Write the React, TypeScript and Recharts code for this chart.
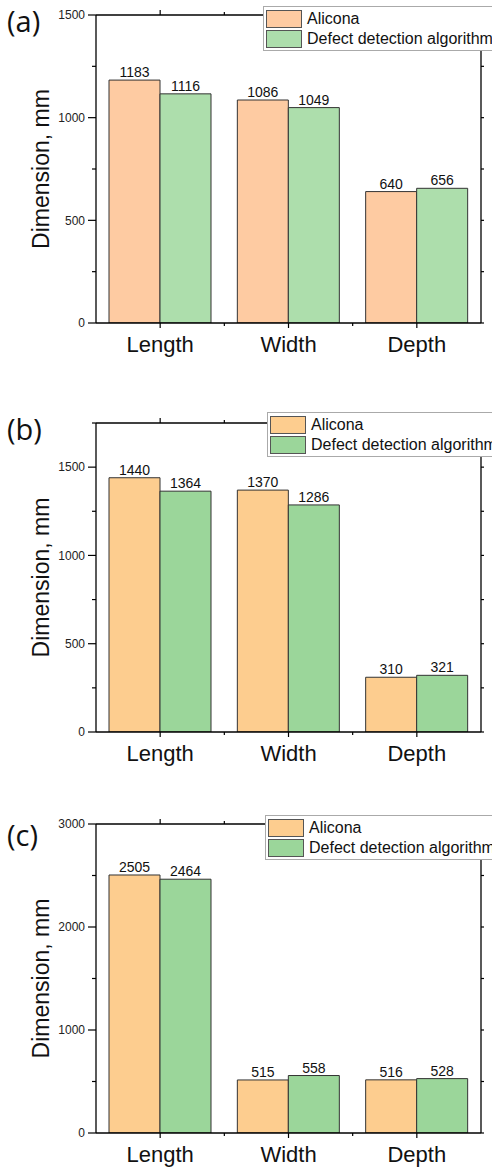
import React from "react"
import { BarChart, Bar, XAxis, YAxis, LabelList, Legend } from "recharts"

const CATEGORIES = ["Length", "Width", "Depth"]
const SERIES = ["Alicona", "Defect detection algorithm"]

const ALICONA_A = [1183, 1086, 640]
const DETECT_A = [1116, 1049, 656]
const ALICONA_B = [1440, 1370, 310]
const DETECT_B = [1364, 1286, 321]
const ALICONA_C = [2505, 515, 516]
const DETECT_C = [2464, 558, 528]

const TICKS_A = [0, 250, 500, 750, 1000, 1250, 1500]
const TICKS_B = [0, 250, 500, 750, 1000, 1250, 1500, 1750]
const TICKS_C = [0, 500, 1000, 1500, 2000, 2500, 3000]

const FONT = "'Liberation Sans', Arial, sans-serif"
const W = 492
const LEFT_W = 96
const RIGHT_W = 11
const PLOT_W = W - LEFT_W - RIGHT_W

const leftTick = (major: number) => (props: any) => {
    const { x, y, payload } = props
    const isMajor = payload.value % major === 0
    return (
        <g>
            <line x1={x} x2={x - (isMajor ? 8 : 4)} y1={y} y2={y} stroke="#000" strokeWidth={1.2} />
            {isMajor && (
                <text x={x - 11} y={y} dy="0.35em" textAnchor="end" fontSize={12} fill="#222" fontFamily={FONT}>
                    {payload.value}
                </text>
            )}
        </g>
    )
}

const rightTick = (props: any) => {
    const { x, y } = props
    return <line x1={x} x2={x + 3} y1={y} y2={y} stroke="#000" strokeWidth={1.2} />
}

const step = PLOT_W / CATEGORIES.length

const bottomTick = (props: any) => {
    const { x, y, payload, index } = props
    return (
        <g>
            <line x1={x} x2={x} y1={y} y2={y + 5} stroke="#000" strokeWidth={1.2} />
            {index < CATEGORIES.length - 1 && (
                <line x1={x + step / 2} x2={x + step / 2} y1={y} y2={y + 3} stroke="#000" strokeWidth={1.2} />
            )}
            <text x={x} y={y + 29} textAnchor="middle" fontSize={22} fill="#111" fontFamily={FONT}>
                {payload.value}
            </text>
        </g>
    )
}

const topTick = (props: any) => {
    const { x, y, index } = props
    return (
        <g>
            <line x1={x} x2={x} y1={y} y2={y - 5} stroke="#000" strokeWidth={1.2} />
            {index < CATEGORIES.length - 1 && (
                <line x1={x + step / 2} x2={x + step / 2} y1={y} y2={y - 3} stroke="#000" strokeWidth={1.2} />
            )}
        </g>
    )
}

function renderLegend(props: any) {
    const { payload } = props
    return (
        <div style={{ background: "#fff", border: "1px solid #aaa", padding: "2px 2px 1px 2px", fontFamily: FONT }}>
            {(payload || []).map((entry: any, i: number) => (
                <div key={i} style={{ display: "flex", alignItems: "center", height: 20 }}>
                    <div style={{ width: 34, height: 16, background: entry.color, border: "1px solid #555", marginRight: 5 }} />
                    <span style={{ fontSize: 16, color: "#111", whiteSpace: "nowrap" }}>{entry.value}</span>
                </div>
            ))}
        </div>
    )
}

interface PanelProps {
    top: number
    height: number
    topH: number
    bottomH: number
    alicona: number[]
    detect: number[]
    domain: [number, number]
    ticks: number[]
    major: number
    colors: [string, string]
    legendLeft: number
    legendTop: number
}

function Panel(p: PanelProps) {
    const data = CATEGORIES.map((cat, i) => ({ cat, alicona: p.alicona[i], detect: p.detect[i] }))
    return (
        <div style={{ position: "absolute", left: 0, top: p.top }}>
            <BarChart
                width={W}
                height={p.height}
                data={data}
                margin={{ top: 0, right: 0, bottom: 0, left: 0 }}
                barCategoryGap={13}
                barGap={0}
            >
                <XAxis
                    dataKey="cat"
                    xAxisId="bottom"
                    height={p.bottomH}
                    tickSize={0}
                    tickMargin={0}
                    tickLine={false}
                    axisLine={{ stroke: "#000", strokeWidth: 1.3 }}
                    tick={bottomTick}
                    interval={0}
                />
                <XAxis
                    dataKey="cat"
                    xAxisId="top"
                    orientation="top"
                    height={p.topH}
                    tickSize={0}
                    tickMargin={0}
                    tickLine={false}
                    axisLine={{ stroke: "#000", strokeWidth: 1.3 }}
                    tick={topTick}
                    interval={0}
                />
                <YAxis
                    yAxisId="left"
                    width={LEFT_W}
                    domain={p.domain}
                    ticks={p.ticks}
                    interval={0}
                    tickSize={0}
                    tickMargin={0}
                    tickLine={false}
                    axisLine={{ stroke: "#000", strokeWidth: 1.3 }}
                    tick={leftTick(p.major)}
                    allowDataOverflow
                />
                <YAxis
                    yAxisId="right"
                    orientation="right"
                    width={RIGHT_W}
                    domain={p.domain}
                    ticks={p.ticks}
                    interval={0}
                    tickSize={0}
                    tickMargin={0}
                    tickLine={false}
                    axisLine={{ stroke: "#000", strokeWidth: 1.3 }}
                    tick={rightTick}
                    allowDataOverflow
                />
                <Legend
                    content={renderLegend}
                    layout="horizontal"
                    verticalAlign="middle"
                    align="center"
                    wrapperStyle={{ left: p.legendLeft, top: p.legendTop, width: 262, height: "auto" }}
                />
                <Bar
                    dataKey="alicona"
                    name={SERIES[0]}
                    xAxisId="bottom"
                    yAxisId="left"
                    fill={p.colors[0]}
                    stroke="#333"
                    strokeWidth={1}
                    isAnimationActive={false}
                >
                    <LabelList dataKey="alicona" position="top" offset={3} fontSize={14} fill="#111" fontFamily={FONT} />
                </Bar>
                <Bar
                    dataKey="detect"
                    name={SERIES[1]}
                    xAxisId="bottom"
                    yAxisId="left"
                    fill={p.colors[1]}
                    stroke="#333"
                    strokeWidth={1}
                    isAnimationActive={false}
                >
                    <LabelList dataKey="detect" position="top" offset={3} fontSize={14} fill="#111" fontFamily={FONT} />
                </Bar>
            </BarChart>
        </div>
    )
}

const PANELS = [
    { letter: "(a)", letterY: 32, top: 0, height: 370, topH: 15, bottomH: 47, alicona: ALICONA_A, detect: DETECT_A, domain: [0, 1500] as [number, number], ticks: TICKS_A, major: 500, colors: ["#FECBA2", "#ADDEAC"] as [string, string], legendLeft: 263, legendTop: 6 },
    { letter: "(b)", letterY: 440, top: 380, height: 400, topH: 43, bottomH: 48, alicona: ALICONA_B, detect: DETECT_B, domain: [0, 1750] as [number, number], ticks: TICKS_B, major: 500, colors: ["#FDCD8F", "#9BD69A"] as [string, string], legendLeft: 267, legendTop: 32 },
    { letter: "(c)", letterY: 846, top: 780, height: 387, topH: 44, bottomH: 34, alicona: ALICONA_C, detect: DETECT_C, domain: [0, 3000] as [number, number], ticks: TICKS_C, major: 1000, colors: ["#FDCD8F", "#9BD69A"] as [string, string], legendLeft: 265, legendTop: 35 },
]

export default function App() {
    return (
        <div style={{ position: "absolute", left: 0, top: 0, width: W, height: 1167, overflow: "hidden", background: "#fff" }}>
            {PANELS.map((p, i) => (
                <Panel key={i} {...p} />
            ))}
            <svg width={W} height={1167} style={{ position: "absolute", left: 0, top: 0, pointerEvents: "none" }}>
                {PANELS.map((p, i) => {
                    const plotTop = p.top + p.topH
                    const plotBottom = p.top + p.height - p.bottomH
                    const cy = (plotTop + plotBottom) / 2
                    return (
                        <g key={i}>
                            <text x={7} y={p.letterY} fontSize={29} fill="#111" fontFamily="'Open Sans', sans-serif">
                                {p.letter}
                            </text>
                            <text
                                x={41}
                                y={cy}
                                transform={`rotate(-90, 41, ${cy})`}
                                textAnchor="middle"
                                dominantBaseline="central"
                                fontSize={23}
                                fill="#111"
                                fontFamily={FONT}
                            >
                                Dimension, mm
                            </text>
                        </g>
                    )
                })}
            </svg>
        </div>
    )
}
